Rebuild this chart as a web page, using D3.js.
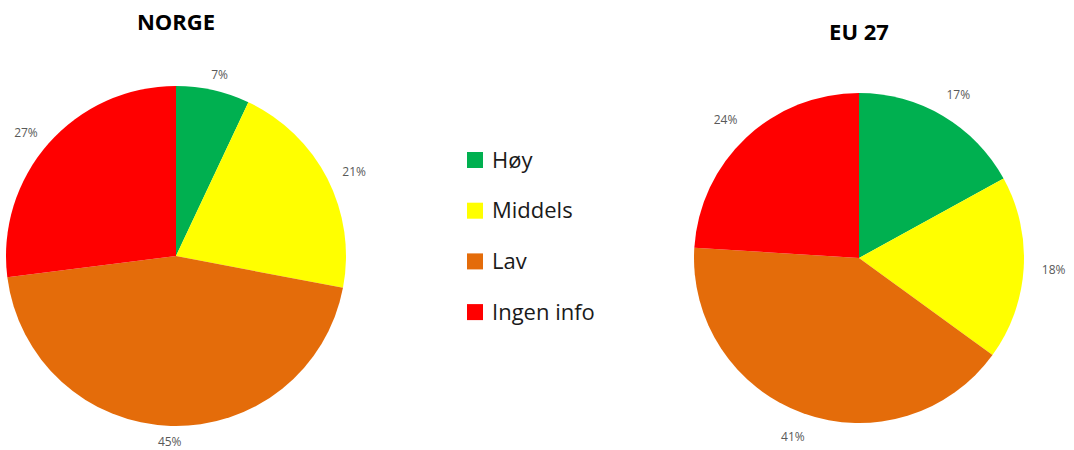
<!DOCTYPE html>
<html>
<head>
<meta charset="utf-8">
<script src="https://cdnjs.cloudflare.com/ajax/libs/d3/7.8.5/d3.min.js"></script>
<style>
  body { margin: 0; background: #fff; }
  svg { display: block; }
</style>
</head>
<body>
<div id="chart"></div>
<script>
var categories = ["Høy", "Middels", "Lav", "Ingen info"];
var colors = ["#00B050", "#FFFF00", "#E46C0A", "#FF0000"];
var norgeValues = [7, 21, 45, 27];
var euValues = [17, 18, 41, 24];
var titles = ["NORGE", "EU 27"];

var width = 1074, height = 450;
var font = "'Open Sans', 'Liberation Sans', sans-serif";

var svg = d3.select("#chart")
    .append("svg")
    .attr("width", width)
    .attr("height", height);

var pie = d3.pie().sort(null).value(function (d) { return d; });

var color = d3.scaleOrdinal().domain(categories).range(colors);

// labels sit outside the slice end, a bit further out sideways than up/down
function drawPie(values, title, cx, cy, r, labelRx, labelRy, titleY) {
    var g = svg.append("g").attr("transform", "translate(" + cx + "," + cy + ")");
    var arc = d3.arc().innerRadius(0).outerRadius(r);

    var slices = pie(values);

    g.selectAll("path")
        .data(slices)
        .enter().append("path")
        .attr("d", arc)
        .attr("fill", function (d, i) { return color(categories[i]); });

    g.selectAll("text.lbl")
        .data(slices)
        .enter().append("text")
        .attr("class", "lbl")
        .attr("transform", function (d) {
            var a = (d.startAngle + d.endAngle) / 2;
            return "translate(" + (Math.sin(a) * labelRx) + "," + (-Math.cos(a) * labelRy) + ")";
        })
        .attr("text-anchor", "middle")
        .attr("dy", "0.35em")
        .attr("font-family", font)
        .attr("font-size", 12)
        .attr("fill", "#595959")
        .text(function (d) { return d.data + "%"; });

    svg.append("text")
        .attr("x", cx)
        .attr("y", titleY)
        .attr("text-anchor", "middle")
        .attr("dy", "0.35em")
        .attr("font-family", font)
        .attr("font-weight", "bold")
        .attr("font-size", 22)
        .attr("fill", "#000")
        .text(title);
}

drawPie(norgeValues, titles[0], 176, 256, 170, 200, 186, 22);
drawPie(euValues, titles[1], 859, 258, 165, 195, 190, 32);

// legend
var legend = svg.append("g").attr("transform", "translate(467,160)");
var rows = legend.selectAll("g")
    .data(categories)
    .enter().append("g")
    .attr("transform", function (d, i) { return "translate(0," + (i * 50.7) + ")"; });

rows.append("rect")
    .attr("x", 0)
    .attr("y", -8)
    .attr("width", 16)
    .attr("height", 16)
    .attr("fill", function (d) { return color(d); });

rows.append("text")
    .attr("x", 25)
    .attr("y", 0)
    .attr("dy", "0.35em")
    .attr("font-family", font)
    .attr("font-size", 22)
    .attr("fill", "#1a1a1a")
    .text(function (d) { return d; });
</script>
</body>
</html>
